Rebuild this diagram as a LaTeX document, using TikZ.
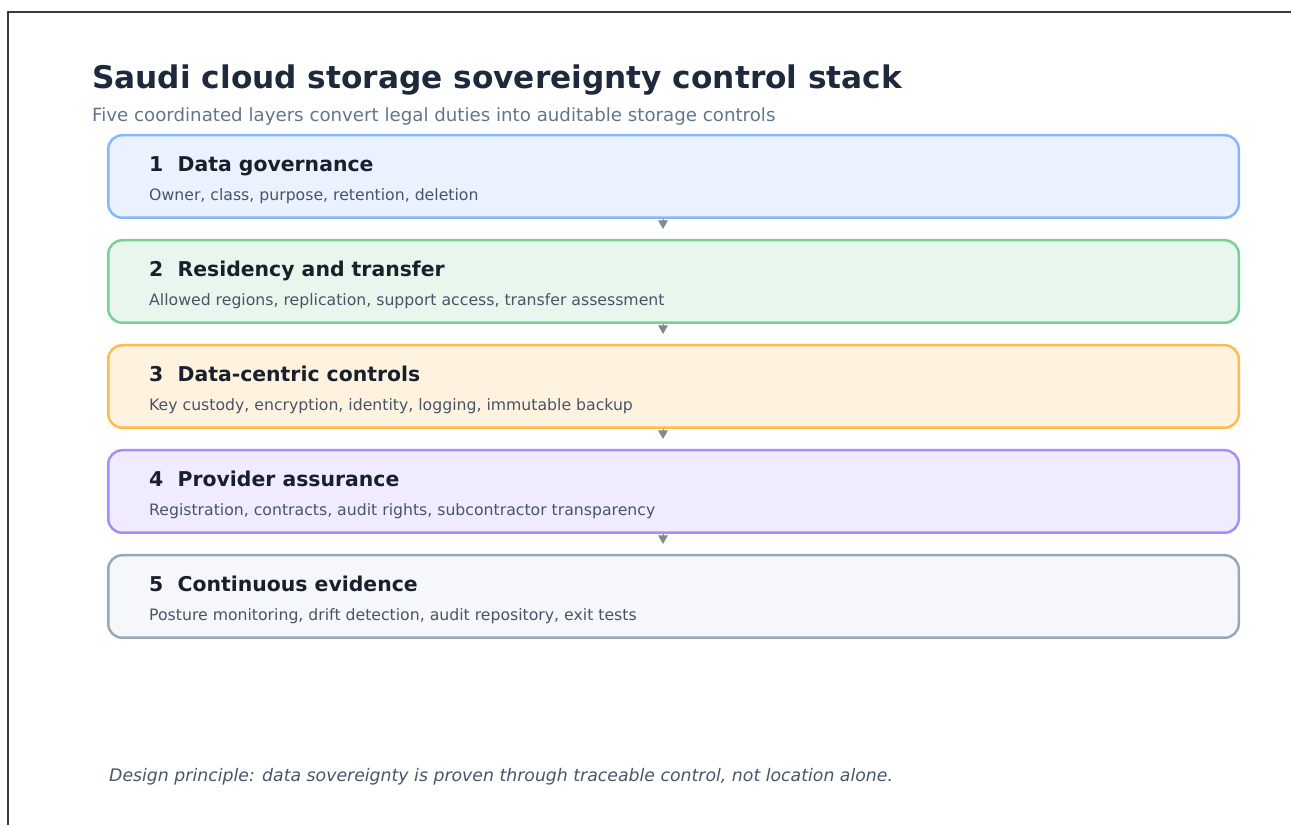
\documentclass[tikz,border=0pt]{standalone}
\usepackage{fontspec}
\setmainfont{DejaVu Sans}
\usepackage{tikz}
\usetikzlibrary{positioning,calc,arrows.meta}
\definecolor{titletext}{HTML}{1E293B}
\definecolor{subtext}{HTML}{64748B}
\definecolor{headtext}{HTML}{18202C}
\definecolor{desctext}{HTML}{475569}
\definecolor{arrowgray}{HTML}{7F8C8D}
\definecolor{framegray}{HTML}{3A3A3A}
\definecolor{govfill}{HTML}{EAF2FF}
\definecolor{govline}{HTML}{86B6FC}
\definecolor{resfill}{HTML}{E8F6EE}
\definecolor{resline}{HTML}{76D098}
\definecolor{ctlfill}{HTML}{FFF3E0}
\definecolor{ctlline}{HTML}{FDBB50}
\definecolor{provfill}{HTML}{F1EBFF}
\definecolor{provline}{HTML}{A98CFB}
\definecolor{evfill}{HTML}{F5F7FA}
\definecolor{evline}{HTML}{9AA8B6}

\begin{document}
\begin{tikzpicture}[
    x=1pt, y=1pt,
    node distance=20pt,
    layer/.style={rectangle, rounded corners=14pt, line width=2.5pt, minimum width=1130.5pt, minimum height=82.5pt, inner sep=0pt},
    head/.style={anchor=base west, inner sep=0pt, font=\bfseries\fontsize{20.4}{24}\selectfont, text=headtext},
    desc/.style={anchor=base west, inner sep=0pt, font=\fontsize{15.7}{19}\selectfont, text=desctext},
    arrow/.style={draw, -{Triangle[width=9.5pt,length=8.5pt]}, line width=1pt, color=arrowgray, shorten >=10pt}
]

\useasboundingbox (0,0) rectangle (1291,825);

% page frame
\draw [framegray, line width=1.2pt] (8,0) -- (8,813) -- (1291,813);

% heading
\node [anchor=base west, inner sep=0pt, font=\bfseries\fontsize{31.2}{36}\selectfont, text=titletext] (title) at (92,736) {Saudi cloud storage sovereignty control stack};
\node [anchor=base west, inner sep=0pt, font=\fontsize{18.2}{22}\selectfont, text=subtext] (subtitle) at (92,703) {Five coordinated layers convert legal duties into auditable storage controls};

% the five layers
\node [layer, draw=govline, fill=govfill] (gov) at (673.5,648.5) {};
\node [layer, draw=resline, fill=resfill, below=of gov] (res) {};
\node [layer, draw=ctlline, fill=ctlfill, below=of res] (ctl) {};
\node [layer, draw=provline, fill=provfill, below=of ctl] (prov) {};
\node [layer, draw=evline, fill=evfill, below=of prov] (ev) {};

\node [head] (govhead) at ([shift={(42,-37.5)}]gov.north west) {1~~Data governance};
\node [desc] (govdesc) at ([shift={(42,-67)}]gov.north west) {Owner, class, purpose, retention, deletion};
\node [head] (reshead) at ([shift={(42,-37.5)}]res.north west) {2~~Residency and transfer};
\node [desc] (resdesc) at ([shift={(42,-67)}]res.north west) {Allowed regions, replication, support access, transfer assessment};
\node [head] (ctlhead) at ([shift={(42,-37.5)}]ctl.north west) {3~~Data-centric controls};
\node [desc] (ctldesc) at ([shift={(42,-67)}]ctl.north west) {Key custody, encryption, identity, logging, immutable backup};
\node [head] (provhead) at ([shift={(42,-37.5)}]prov.north west) {4~~Provider assurance};
\node [desc] (provdesc) at ([shift={(42,-67)}]prov.north west) {Registration, contracts, audit rights, subcontractor transparency};
\node [head] (evhead) at ([shift={(42,-37.5)}]ev.north west) {5~~Continuous evidence};
\node [desc] (evdesc) at ([shift={(42,-67)}]ev.north west) {Posture monitoring, drift detection, audit repository, exit tests};

% small arrows between the layers, a little left of centre
\draw [arrow] ([xshift=-10.5]gov.south) -- ([xshift=-10.5]res.north);
\draw [arrow] ([xshift=-10.5]res.south) -- ([xshift=-10.5]ctl.north);
\draw [arrow] ([xshift=-10.5]ctl.south) -- ([xshift=-10.5]prov.north);
\draw [arrow] ([xshift=-10.5]prov.south) -- ([xshift=-10.5]ev.north);

% footer note
\node [anchor=base west, inner sep=0pt, font=\itshape\fontsize{17.3}{21}\selectfont, text=desctext] (note) at (109,43) {Design principle: data sovereignty is proven through traceable control, not location alone.};

\end{tikzpicture}
\end{document}
